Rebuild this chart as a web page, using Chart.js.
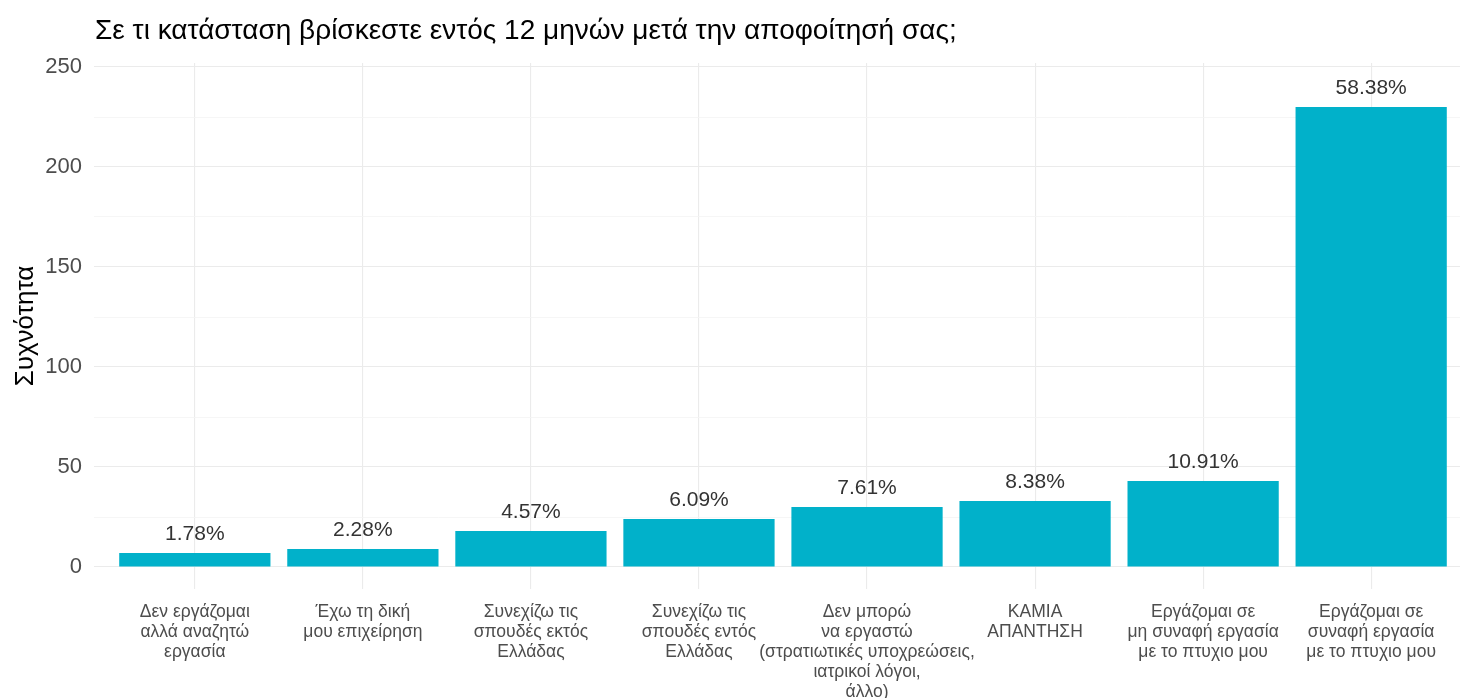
<!DOCTYPE html>
<html>
<head>
<meta charset="utf-8">
<script src="https://cdn.jsdelivr.net/npm/chart.js"></script>
<style>
  html, body { margin: 0; padding: 0; background: #fff; overflow: hidden; }
  #wrap { width: 1473px; height: 698px; }
</style>
</head>
<body>
<div id="wrap"><canvas id="status-chart" width="1473" height="698"></canvas></div>
<script>
var chartTitle = 'Σε τι κατάσταση βρίσκεστε εντός 12 μηνών μετά την αποφοίτησή σας;';
var yTitle = 'Συχνότητα';

var categories = [
    ['Δεν εργάζομαι', 'αλλά αναζητώ', 'εργασία'],
    ['Έχω τη δική', 'μου επιχείρηση'],
    ['Συνεχίζω τις', 'σπουδές εκτός', 'Ελλάδας'],
    ['Συνεχίζω τις', 'σπουδές εντός', 'Ελλάδας'],
    ['Δεν μπορώ', 'να εργαστώ', '(στρατιωτικές υποχρεώσεις,', 'ιατρικοί λόγοι,', 'άλλο)'],
    ['ΚΑΜΙΑ', 'ΑΠΑΝΤΗΣΗ'],
    ['Εργάζομαι σε', 'μη συναφή εργασία', 'με το πτυχιο μου'],
    ['Εργάζομαι σε', 'συναφή εργασία', 'με το πτυχιο μου']
];
var counts = [7, 9, 18, 24, 30, 33, 43, 230];
var yTicks = [0, 25, 50, 75, 100, 125, 150, 175, 200, 225, 250];

var total = counts.reduce(function(a, b) { return a + b; }, 0);
var points = counts.map(function(v, i) { return { x: i, y: v }; });

// title + percentage labels drawn on the canvas
var extras = {
    id: 'extras',
    afterDatasetsDraw: function(chart) {
        var c = chart.ctx;
        var area = chart.chartArea;
        c.save();
        c.fillStyle = '#000';
        c.font = '28px "Liberation Sans", Arial, sans-serif';
        c.textAlign = 'left';
        c.textBaseline = 'middle';
        c.fillText(chartTitle, area.left + 1, 31);

        c.fillStyle = '#333';
        c.font = '21px "Liberation Sans", Arial, sans-serif';
        c.textAlign = 'center';
        c.textBaseline = 'alphabetic';
        chart.getDatasetMeta(0).data.forEach(function(bar, i) {
            var pct = (counts[i] / total * 100).toFixed(2) + '%';
            c.fillText(pct, bar.x, bar.y - 13);
        });
        c.restore();
    }
};

var ctx = document.getElementById('status-chart').getContext('2d');
var statusChart = new Chart(ctx, {
    type: 'bar',
    data: {
        datasets: [{
            data: points,
            backgroundColor: '#01B1CA',
            borderWidth: 0,
            barPercentage: 0.9,
            categoryPercentage: 1.0
        }]
    },
    options: {
        responsive: false,
        animation: false,
        layout: { padding: { top: 63, right: 1, left: 0, bottom: 0 } },
        plugins: {
            legend: { display: false },
            tooltip: { enabled: false }
        },
        scales: {
            x: {
                type: 'linear',
                min: -0.6,
                max: 7.6,
                offset: false,
                afterBuildTicks: function(scale) {
                    scale.ticks = categories.map(function(c, i) { return { value: i }; });
                },
                afterFit: function(scale) { scale.height = 109; },
                border: { display: false },
                grid: { offset: false, color: '#EBEBEB', lineWidth: 1.1, drawTicks: false },
                ticks: {
                    autoSkip: false,
                    maxRotation: 0,
                    padding: 13,
                    color: '#4D4D4D',
                    font: { family: '"Liberation Sans", Arial, sans-serif', size: 17.5, lineHeight: '20px' },
                    callback: function(value) { return categories[value]; }
                }
            },
            y: {
                min: -11,
                max: 252,
                afterBuildTicks: function(scale) {
                    scale.ticks = yTicks.map(function(v) { return { value: v }; });
                },
                afterFit: function(scale) { scale.width = 94; },
                border: { display: false },
                grid: {
                    drawTicks: false,
                    color: function(c) { return c.tick && c.tick.value % 50 === 0 ? '#EBEBEB' : '#F4F4F4'; },
                    lineWidth: function(c) { return c.tick && c.tick.value % 50 === 0 ? 1.1 : 0.8; }
                },
                ticks: {
                    padding: 12,
                    color: '#4D4D4D',
                    font: { family: '"Liberation Sans", Arial, sans-serif', size: 22 },
                    callback: function(value) { return value % 50 === 0 ? value : ''; }
                },
                title: {
                    display: true,
                    text: yTitle,
                    color: '#000',
                    padding: { top: 10, bottom: 0 },
                    font: { family: '"Liberation Sans", Arial, sans-serif', size: 26 }
                }
            }
        }
    },
    plugins: [extras]
});
</script>
</body>
</html>
